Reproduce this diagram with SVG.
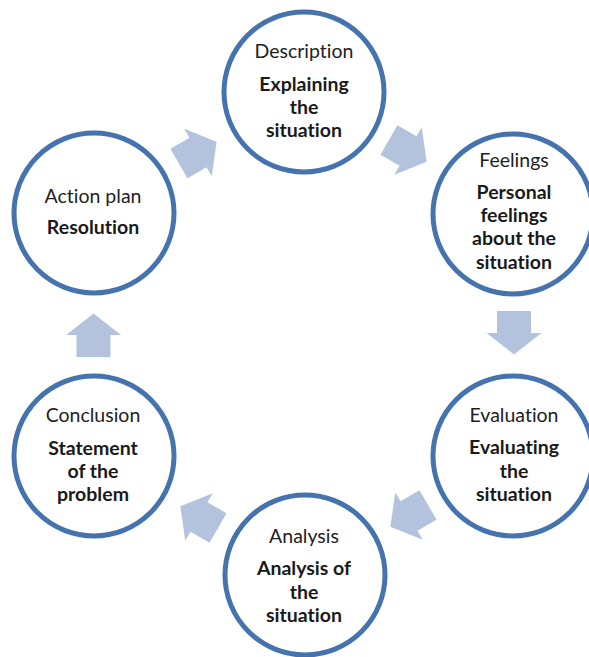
<svg xmlns="http://www.w3.org/2000/svg" width="589" height="657" viewBox="0 0 589 657">
<style>
.ring{fill:#fff;stroke:#4573ad;stroke-width:5}
.lbl{font-family:Lato,"Open Sans",sans-serif;font-size:19.5px;fill:#222;text-anchor:middle;font-variant-ligatures:none;font-feature-settings:"liga" 0}
.b{font-weight:bold;fill:#1a1a1a}
.arr{fill:#b3c3de}
</style>
<defs>
<path id="blk" d="M-22,-17 L0,-17 L0,-27.5 L21.5,0 L0,27.5 L0,17 L-22,17 Z"/>
</defs>
<g id="connectors">
<use href="#blk" class="arr" transform="translate(198,152.5) rotate(-30)"/>
<use href="#blk" class="arr" transform="translate(408,151) rotate(30)"/>
<use href="#blk" class="arr" transform="translate(514,333) rotate(90)"/>
<use href="#blk" class="arr" transform="translate(409,516) rotate(150)"/>
<use href="#blk" class="arr" transform="translate(199,517) rotate(210)"/>
<use href="#blk" class="arr" transform="translate(93.5,335) rotate(-90)"/>
</g>
<g id="description">
<circle class="ring" cx="304" cy="92" r="80"/>
<text class="lbl" x="304" y="58">Description</text>
<text class="lbl b" x="304" y="91">Explaining</text>
<text class="lbl b" x="304" y="114">the</text>
<text class="lbl b" x="304" y="137">situation</text>
</g>
<g id="feelings">
<circle class="ring" cx="513" cy="214" r="80"/>
<text class="lbl" x="514" y="167">Feelings</text>
<text class="lbl b" x="514" y="199">Personal</text>
<text class="lbl b" x="514" y="222">feelings</text>
<text class="lbl b" x="514" y="245">about the</text>
<text class="lbl b" x="514" y="269">situation</text>
</g>
<g id="evaluation">
<circle class="ring" cx="513" cy="456" r="80"/>
<text class="lbl" x="514" y="422">Evaluation</text>
<text class="lbl b" x="514" y="454">Evaluating</text>
<text class="lbl b" x="514" y="478">the</text>
<text class="lbl b" x="514" y="501">situation</text>
</g>
<g id="analysis">
<circle class="ring" cx="305" cy="575" r="80"/>
<text class="lbl" x="304" y="543">Analysis</text>
<text class="lbl b" x="304" y="575">Analysis of</text>
<text class="lbl b" x="304" y="599">the</text>
<text class="lbl b" x="304" y="622">situation</text>
</g>
<g id="conclusion">
<circle class="ring" cx="94" cy="456" r="80"/>
<text class="lbl" x="93" y="422">Conclusion</text>
<text class="lbl b" x="93" y="455">Statement</text>
<text class="lbl b" x="93" y="478">of the</text>
<text class="lbl b" x="93" y="501">problem</text>
</g>
<g id="action-plan">
<circle class="ring" cx="94" cy="213" r="80"/>
<text class="lbl" x="93" y="203">Action plan</text>
<text class="lbl b" x="93" y="234">Resolution</text>
</g>
</svg>
